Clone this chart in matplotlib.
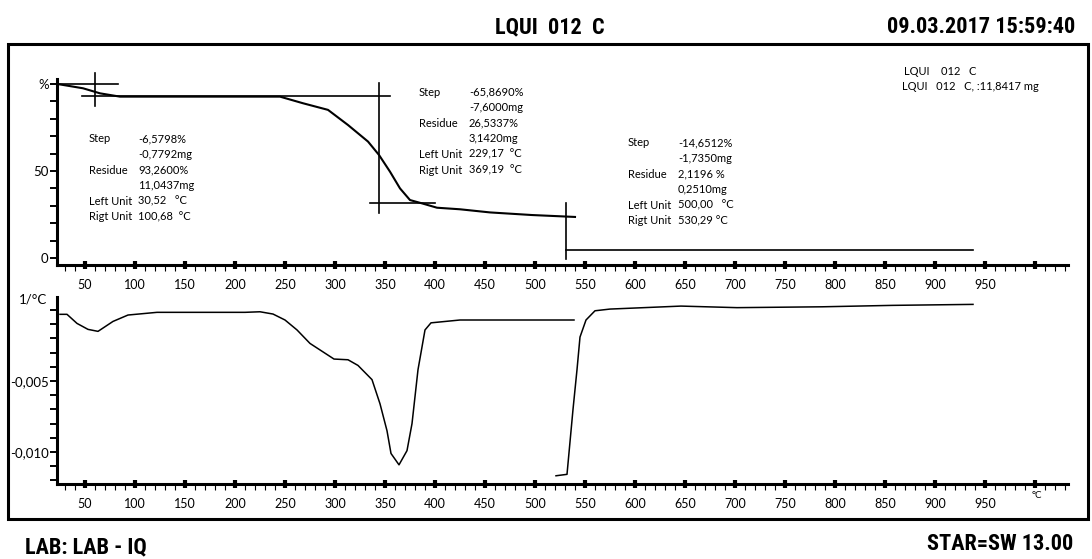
import numpy as np
import matplotlib
matplotlib.use("Agg")
import matplotlib.pyplot as plt
from matplotlib.patches import Rectangle

# TG curve (mass %, upper panel)
tg_temp = [22, 48, 65, 85, 225, 245, 268, 293, 313, 333, 344, 355, 365, 375, 387, 402, 425, 455, 497, 540]
tg_pct = [100, 97.5, 94.6, 92.7, 92.7, 92.7, 88.9, 85.1, 76.4, 66.9, 59.2, 49.6, 40.0, 33.3, 31.4, 28.9, 28.0, 26.2, 24.7, 23.6]

# DTG curve (1/°C, lower panel), two segments
dtg1_temp = [25, 32, 42, 53, 63, 78, 93, 122, 210, 225, 238, 250, 262, 275, 287, 299, 313, 323, 337, 345,
             352, 356, 364, 372, 377, 383, 390, 396, 425, 508, 539]
dtg1_val = [-0.0003, -0.0003, -0.00094, -0.00136, -0.0015, -0.0008, -0.00035, -0.00016, -0.00016, -0.00012,
            -0.00028, -0.0007, -0.0014, -0.00235, -0.0029, -0.00345, -0.0035, -0.0039, -0.0049, -0.0066,
            -0.0085, -0.0101, -0.0109, -0.0099, -0.0080, -0.0042, -0.0014, -0.0009, -0.0007, -0.0007, -0.0007]
dtg2_temp = [521, 532, 538, 542, 545, 551, 560, 575, 646, 702, 787, 857, 938]
dtg2_val = [-0.01167, -0.01157, -0.0070, -0.0042, -0.0019, -0.0007, -0.00005, 0.00007, 0.00028, 0.00017,
            0.00023, 0.00033, 0.0004]

# step evaluation marks (temp pairs, pct pairs)
step_lines = [
    ([60, 60], [106.3, 87.4]),
    ([22, 83], [100, 100]),
    ([47, 355], [92.8, 92.8]),
    ([344, 344], [100.6, 25.9]),
    ([335, 400], [31.4, 31.4]),
    ([531, 531], [31.6, -0.6]),
    ([531, 938], [4.6, 4.6]),
]

step1 = [("Step", "-6,5798%"), ("", "-0,7792mg"), ("Residue", "93,2600%"), ("", "11,0437mg"),
         ("Left Unit", "30,52   °C"), ("Rigt Unit", "100,68  °C")]
step2 = [("Step", "-65,8690%"), ("", "-7,6000mg"), ("Residue", "26,5337%"), ("", "3,1420mg"),
         ("Left Unit", "229,17  °C"), ("Rigt Unit", "369,19  °C")]
step3 = [("Step", "-14,6512%"), ("", "-1,7350mg"), ("Residue", "2,1196 %"), ("", "0,2510mg"),
         ("Left Unit", "500,00   °C"), ("Rigt Unit", "530,29 °C")]

x_major = list(range(50, 1001, 50))
x_labels = [str(v) for v in range(50, 951, 50)]

W, H = 1092, 559
fig = plt.figure(figsize=(W / 100, H / 100), dpi=100)


def fx(x):
    return x / W


def fy(y):
    return 1 - y / H


small = ["Lato", "DejaVu Sans"]
big = ["Roboto Condensed", "Open Sans Condensed", "DejaVu Sans"]

ax1 = fig.add_axes([fx(57), fy(265), (1068 - 57) / W, (265 - 70) / H])
ax2 = fig.add_axes([fx(57), fy(484), (1068 - 57) / W, (484 - 297) / H])

for ax in (ax1, ax2):
    ax.set_xlim(22, 1033)
    ax.spines["top"].set_visible(False)
    ax.spines["right"].set_visible(False)
    ax.spines["left"].set_linewidth(2.2)
    ax.spines["bottom"].set_linewidth(2.2)
    ax.set_xticks(x_major)
    ax.set_xticks(np.arange(30, 1031, 10), minor=True)
    ax.tick_params(axis="x", which="major", direction="inout", length=6, width=3, pad=7)
    ax.tick_params(axis="x", which="minor", direction="out", length=4, width=0.8)
    ax.tick_params(axis="y", which="both", direction="out", length=5, width=1.4, pad=1)
    ax.patch.set_alpha(0)

ax1.set_xticklabels(x_labels + [""], fontsize=9, family=small)
ax2.set_xticklabels(x_labels + [""], fontsize=9, family=small)

# upper panel
ax1.set_ylim(-4.0, 108)
ax1.spines["left"].set_bounds(-4.0, 103)
ax1.set_yticks([0, 50, 100])
ax1.set_yticklabels(["0", "50", "%"], fontsize=9.5, family=small)
ax1.set_yticks(np.arange(0, 101, 10), minor=True)
ax1.plot(tg_temp, tg_pct, color="black", lw=1.5, clip_on=False)
for xs, ys in step_lines:
    ax1.plot(xs, ys, color="black", lw=1.2, clip_on=False)

# lower panel
ax2.set_ylim(-0.01225, 0.00092)
ax2.set_yticks([-0.010, -0.005])
ax2.set_yticklabels(["-0,010", "-0,005"], fontsize=9.5, family=small)
ax2.set_yticks(np.round(np.arange(-0.012, 0.0005, 0.001), 4), minor=True)
ax2.plot(dtg1_temp, dtg1_val, color="black", lw=1.1)
ax2.plot(dtg2_temp, dtg2_val, color="black", lw=1.1)
fig.text(fx(1032), fy(496), "°C", fontsize=7, family=small, ha="left", va="center")
fig.text(fx(47), fy(300), "1/°C", fontsize=9.5, family=small, ha="right", va="center")

# step annotation blocks
for block, x0, x1, y0 in [(step1, 89, 138, 139), (step2, 419, 469, 92), (step3, 628, 678, 143)]:
    for i, (a, b) in enumerate(block):
        yy = y0 + i * 15.6
        if a:
            fig.text(fx(x0), fy(yy), a, fontsize=8, family=small, ha="left", va="center")
        fig.text(fx(x1), fy(yy), b, fontsize=8, family=small, ha="left", va="center")

fig.text(fx(904), fy(71), "LQUI    012   C", fontsize=8, family=small, ha="left", va="center")
fig.text(fx(902), fy(87), "LQUI   012   C, :11,8417 mg", fontsize=8, family=small, ha="left", va="center")

# outer frame
fig.patches.append(Rectangle((fx(8), fy(519)), (1088 - 8) / W, (519 - 44) / H, transform=fig.transFigure,
                             fill=False, lw=2.2, edgecolor="black"))

# header / footer
hdr = dict(fontsize=16, weight="bold", family=big, fontstretch="condensed", va="center")
fig.text(fx(550), fy(27), "LQUI  012  C", ha="center", **hdr)
fig.text(fx(1075), fy(27), "09.03.2017 15:59:40", ha="right", **hdr)
fig.text(fx(25), fy(547), "LAB: LAB - IQ", ha="left", **hdr)
fig.text(fx(1073), fy(544), "STAR=SW 13.00", ha="right", **hdr)

fig.savefig("out.png", dpi=100)
